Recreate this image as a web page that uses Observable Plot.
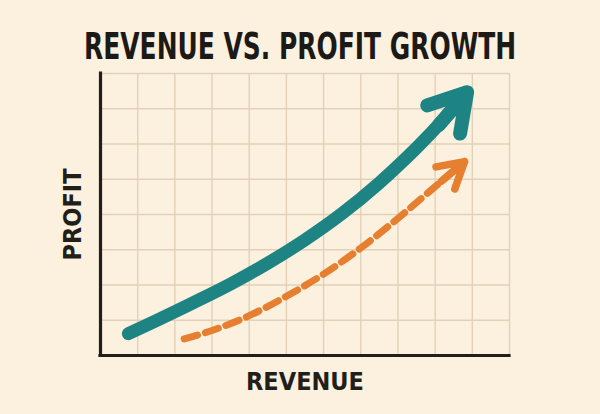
<!DOCTYPE html>
<html>
<head>
<meta charset="utf-8">
<script src="https://cdn.jsdelivr.net/npm/d3@7"></script>
<script src="https://cdn.jsdelivr.net/npm/@observablehq/plot@0.6"></script>
<style>
html, body { margin: 0; padding: 0; background: #fcf1df; }
#wrap { width: 600px; height: 414px; overflow: hidden; background: #fcf1df; }
#title { height: 65px; box-sizing: border-box; padding-top: 28px; text-align: center; line-height: 37px; white-space: nowrap; }
#title span { display: inline-block; font-family: "Liberation Sans Narrow", "Arial Narrow", "DejaVu Sans Condensed", sans-serif; font-weight: bold; font-size: 37.5px; color: #1c1a17; transform-origin: 50% 50%; }
#chart svg { display: block; }
</style>
</head>
<body>
<div id="wrap">
  <div id="title"><span id="t"></span></div>
  <div id="chart"></div>
</div>
<script>
const titleText = "REVENUE VS. PROFIT GROWTH";
const xLabel = "REVENUE";
const yLabel = "PROFIT";

// grid positions (x: revenue units, y: profit units)
const xGrid = [1, 2, 3, 4, 5, 6, 7, 8, 9, 10, 11];
const yGrid = [1, 2, 3, 4, 5, 6, 7, 8];

// teal (solid) growth curve
const tealX = [0.75, 1.5, 2.5, 3.5, 4.5, 5.5, 6.5, 7.5, 8.5, 9.2, 9.86];
const tealY = [0.62, 0.99, 1.50, 2.03, 2.62, 3.28, 4.03, 4.90, 5.89, 6.66, 7.47];

// orange (dashed) growth curve
const orangeX = [2.25, 3.0, 4.0, 5.0, 6.0, 7.0, 8.0, 8.8, 9.79];
const orangeY = [0.47, 0.71, 1.13, 1.68, 2.31, 3.05, 3.89, 4.61, 5.5];

const teal = "#1e8483";
const orange = "#e67f2f";
const ink = "#221e1a";
const gridColor = "#e2d1b8";
const labelFont = "'Liberation Sans Narrow', 'Arial Narrow', 'DejaVu Sans Condensed', sans-serif";

const toPoints = (X, Y) => X.map((x, i) => ({x, y: Y[i]}));
// arrow running along the direction of the last segment, ending at the last point
function endArrow(X, Y, k) {
  const n = X.length;
  return [{
    x1: X[n - 1] - k * (X[n - 1] - X[n - 2]),
    y1: Y[n - 1] - k * (Y[n - 1] - Y[n - 2]),
    x2: X[n - 1],
    y2: Y[n - 1]
  }];
}

const tealPts = toPoints(tealX, tealY);
const orangePts = toPoints(orangeX, orangeY);

const chart = Plot.plot({
  width: 600,
  height: 349,
  marginTop: 8,
  marginBottom: 59,
  marginLeft: 100,
  marginRight: 91,
  x: {domain: [0, 11], axis: null},
  y: {domain: [0, 8], axis: null},
  style: {background: "transparent", overflow: "visible"},
  marks: [
    Plot.ruleX(xGrid, {stroke: gridColor, strokeWidth: 1.4}),
    Plot.ruleY(yGrid, {stroke: gridColor, strokeWidth: 1.4}),
    Plot.line(orangePts, {x: "x", y: "y", stroke: orange, strokeWidth: 7, strokeDasharray: "14,8", curve: "catmull-rom"}),
    Plot.arrow(endArrow(orangeX, orangeY, 3), {x1: "x1", y1: "y1", x2: "x2", y2: "y2", stroke: orange, strokeWidth: 7.5, headLength: 5.8, headAngle: 60, insetStart: 115, strokeLinecap: "round", strokeLinejoin: "round"}),
    Plot.line(tealPts, {x: "x", y: "y", stroke: teal, strokeWidth: 13, curve: "catmull-rom", strokeLinecap: "round", strokeLinejoin: "round"}),
    Plot.arrow(endArrow(tealX, tealY, 5), {x1: "x1", y1: "y1", x2: "x2", y2: "y2", stroke: teal, strokeWidth: 14, headLength: 4.5, headAngle: 62, insetStart: 145, strokeLinecap: "round", strokeLinejoin: "round"}),
    Plot.ruleX([0], {stroke: ink, strokeWidth: 3.2, strokeLinecap: "square"}),
    Plot.ruleY([0], {stroke: ink, strokeWidth: 3.2, strokeLinecap: "square"}),
    Plot.text([yLabel], {text: d => d, frameAnchor: "left", dx: -28, rotate: -90, fontFamily: labelFont, fontWeight: "bold", fontSize: 25, fill: ink, textAnchor: "middle", lineAnchor: "middle"}),
    Plot.text([xLabel], {text: d => d, frameAnchor: "bottom", dy: 26, fontFamily: labelFont, fontWeight: "bold", fontSize: 25, fill: ink, textAnchor: "middle", lineAnchor: "middle"})
  ]
});
document.getElementById("chart").appendChild(chart);

const t = document.getElementById("t");
t.textContent = titleText;
function fitTitle() {
  const w = t.offsetWidth;
  if (w > 0) t.style.transform = `scaleX(${432 / w})`;
}
fitTitle();
if (document.fonts && document.fonts.ready) document.fonts.ready.then(fitTitle);
</script>
</body>
</html>
